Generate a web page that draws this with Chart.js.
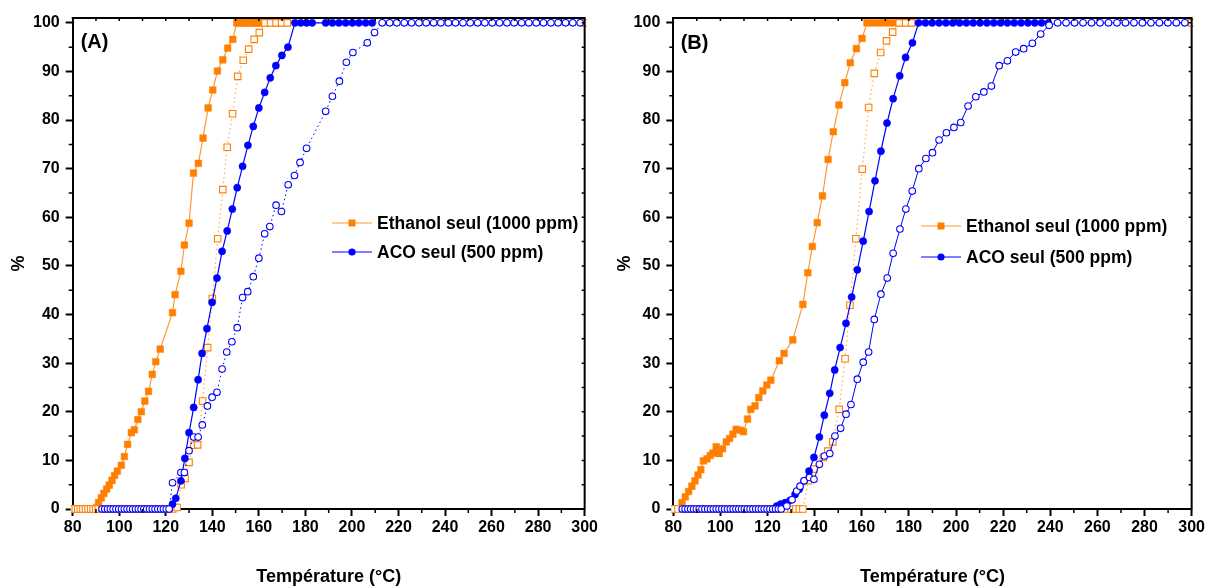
<!DOCTYPE html>
<html>
<head>
<meta charset="utf-8">
<title>Ethanol / ACO</title>
<script src="https://cdn.jsdelivr.net/npm/chart.js@4.4.1/dist/chart.umd.min.js"></script>
<style>
	html, body { margin: 0; padding: 0; background: #fff; }
	#wrap { position: relative; width: 1207px; height: 587px; overflow: hidden; }
	canvas { position: absolute; top: 0; }
	#chartA { left: 0; }
	#chartB { left: 600px; }
</style>
</head>
<body>
<div id="wrap">
	<canvas id="chartA" width="600" height="587"></canvas>
	<canvas id="chartB" width="607" height="587"></canvas>
</div>
<script>
'use strict'

// ---- texts ----
const labelEthanol = 'Ethanol seul (1000 ppm)';
const labelAco = 'ACO seul (500 ppm)';
const xTitle = 'Température (°C)';
const yTitle = '%';
const panelNames = ['(A)', '(B)'];

// ---- panel A ----
const tempEthA = [90.3, 91.1, 92.3, 93.4, 94.6, 95.7, 96.9, 98.0, 99.2, 100.9, 102.2, 103.6, 105.2, 106.5, 108.0, 109.5, 111.0, 112.6, 114.2, 115.7, 117.6, 122.9, 124.0, 126.5, 128.0, 130.0, 131.9, 134.0, 136.0, 138.2, 140.2, 142.2, 144.5, 146.6, 148.8, 150.5, 151.5, 152.5, 153.5, 154.5, 155.5, 156.5, 157.5, 158.5, 159.5, 160.5];
const ethA = [0.3, 1.3, 2.3, 3.2, 4.1, 4.9, 5.9, 6.9, 7.8, 9.0, 10.8, 13.3, 15.7, 16.3, 18.4, 20.0, 22.2, 24.2, 27.7, 30.3, 32.9, 40.4, 44.1, 48.9, 54.3, 58.8, 69.1, 71.1, 76.3, 82.5, 86.2, 90.1, 92.4, 94.8, 96.6, 100, 100, 100, 100, 100, 100, 100, 100, 100, 100, 100];

const tempEthOpenA = [80.0, 81.1, 82.2, 83.3, 84.4, 85.5, 86.6, 87.7, 88.8, 89.9, 91.0, 92.6, 94.2, 95.8, 97.4, 99.0, 100.6, 102.2, 103.8, 105.4, 107.0, 108.6, 110.2, 111.8, 113.4, 115.0, 116.6, 118.2, 119.8, 121.4, 123.0,
	124.9, 126.6, 128.3, 130.0, 132.0, 133.7, 135.8, 138.0, 140.0, 142.3, 144.5, 146.4, 148.7, 150.9, 153.3, 155.6, 158.0, 160.2,
	162.6, 165.0, 167.4, 169.8, 172.2, 300];
const ethOpenA = [0, 0, 0, 0, 0, 0, 0, 0, 0, 0, 0, 0, 0, 0, 0, 0, 0, 0, 0, 0, 0, 0, 0, 0, 0, 0, 0, 0, 0, 0, 0,
	0.3, 5.0, 6.3, 9.6, 13.1, 13.2, 22.2, 33.2, 43.3, 55.6, 65.7, 74.4, 81.3, 89.0, 92.3, 94.6, 96.6, 98.0,
	100, 100, 100, 100, 100, 100];

const tempAcoA = [121.5, 122.9, 124.3, 126.5, 128.2, 130.0, 132.0, 133.9, 135.6, 137.7, 139.9, 142.0, 144.2, 146.4, 148.6, 150.7, 153.0, 155.3, 157.6, 160.0, 162.5, 164.9, 167.3, 169.9, 172.5,
	175.5, 178.0, 180.5, 182.9, 188.7, 191.6, 194.4, 197.3, 200.2, 203.0, 205.9, 208.7];
const acoA = [0, 1.0, 2.2, 5.8, 10.4, 15.7, 20.9, 26.6, 32.0, 37.1, 42.5, 47.5, 53.0, 57.2, 61.7, 66.1, 70.5, 74.8, 78.7, 82.5, 85.7, 88.7, 91.2, 93.3, 95.0,
	100, 100, 100, 100, 100, 100, 100, 100, 100, 100, 100, 100];

const tempAcoOpenA = [92.6, 93.8, 95.0, 96.2, 97.4, 98.6, 99.8, 101.0, 102.2, 103.4, 104.6, 105.8, 107.0, 108.2, 109.4, 110.6, 111.8, 113.0, 114.2, 115.4, 116.6, 117.8, 119.0, 120.2, 121.4,
	122.9, 126.5, 128.0, 130.0, 132.0, 133.9, 135.7, 137.9, 139.9, 142.0, 144.2, 146.2, 148.4, 150.7, 153.0, 155.2, 157.6, 160.0, 162.5, 164.7, 167.4, 169.7, 172.6, 175.3, 177.7, 180.5, 188.7, 191.6, 194.6, 197.6, 200.4, 206.6, 209.7,
	213.0, 216.2, 219.3, 222.5, 225.6, 228.8, 231.9, 235.1, 238.2, 241.4, 244.5, 247.7, 250.8, 254.0, 257.1, 260.3, 263.4, 266.6, 269.7, 272.9, 276.0, 279.2, 282.3, 285.5, 288.6, 291.8, 294.9, 298.1];
const acoOpenA = [0, 0, 0, 0, 0, 0, 0, 0, 0, 0, 0, 0, 0, 0, 0, 0, 0, 0, 0, 0, 0, 0, 0, 0, 0,
	5.4, 7.5, 7.5, 12.0, 14.8, 14.8, 17.3, 21.2, 23.0, 24.0, 28.8, 32.3, 34.4, 37.3, 43.5, 44.7, 47.8, 51.6, 56.6, 58.1, 62.5, 61.2, 66.7, 68.6, 71.3, 74.2, 81.8, 84.9, 88.0, 91.9, 93.9, 95.9, 98.0,
	100, 100, 100, 100, 100, 100, 100, 100, 100, 100, 100, 100, 100, 100, 100, 100, 100, 100, 100, 100, 100, 100, 100, 100, 100, 100, 100, 100];

// ---- panel B ----
const tempEthB = [80.0, 83.7, 85.1, 86.5, 87.9, 89.2, 90.5, 91.7, 92.8, 94.3, 95.7, 96.8, 98.2, 99.5, 100.9, 102.5, 103.9, 105.3, 106.7, 108.4, 109.8, 111.5, 112.9, 114.7, 116.3, 118.0, 119.7, 121.4, 125.0, 127.0, 130.7, 135.0, 137.1, 139.0, 141.1, 143.3, 145.7, 147.9, 150.3, 152.8, 155.1, 157.7, 160.1,
	162.2, 164.6, 167.1, 169.6, 172.0, 174.0];
const ethB = [0, 1.3, 2.5, 3.6, 4.7, 5.8, 7.0, 8.1, 9.9, 10.3, 11.0, 11.5, 12.8, 11.4, 12.4, 13.8, 14.5, 15.4, 16.4, 16.2, 15.9, 18.5, 20.5, 21.2, 22.9, 24.3, 25.5, 26.5, 30.5, 32.0, 34.8, 42.1, 48.6, 54.0, 58.9, 64.4, 71.9, 77.6, 83.1, 87.7, 91.8, 94.7, 96.8,
	100, 100, 100, 100, 100, 100];

const tempEthOpenB = [80.0, 82.0, 84.0, 86.0, 88.0, 90.0, 92.0, 94.0, 96.0, 98.0, 100.0, 102.0, 104.0, 106.0, 108.0, 110.0, 112.0, 114.0, 116.0, 118.0, 120.0, 122.0, 124.0, 126.0, 128.0, 130.0, 132.0, 133.5, 135.0,
	137.3, 139.7, 143.7, 145.6, 147.7, 150.4, 152.9, 155.0, 157.5, 160.2, 162.9, 165.3, 168.0, 170.5, 173.1,
	175.9, 178.6, 181.1, 300];
const ethOpenB = [0, 0, 0, 0, 0, 0, 0, 0, 0, 0, 0, 0, 0, 0, 0, 0, 0, 0, 0, 0, 0, 0, 0, 0, 0, 0, 0, 0, 0,
	5.8, 8.2, 10.6, 11.9, 13.8, 20.5, 30.9, 41.9, 55.6, 69.9, 82.6, 89.6, 93.9, 96.3, 98.1,
	100, 100, 100, 100];

const tempAcoB = [122.0, 123.9, 125.6, 127.5, 129.6, 131.7, 133.5, 135.5, 137.6, 139.7, 142.0, 144.1, 146.4, 148.5, 150.8, 153.3, 155.7, 158.1, 160.6, 163.1, 165.6, 168.1, 170.7, 173.3, 176.1, 178.6, 181.5,
	184.1, 187.0, 189.9, 192.8, 195.7, 198.6, 201.5, 204.4, 207.3, 210.2, 213.1, 216.0, 218.9, 221.8, 224.7, 227.6, 230.5, 233.4, 236.3, 239.2];
const acoB = [0, 0.6, 1.0, 1.3, 1.8, 3.0, 4.1, 5.8, 7.8, 10.6, 14.8, 19.3, 23.8, 28.6, 33.2, 38.2, 43.6, 49.2, 55.1, 61.2, 67.5, 73.6, 79.4, 84.4, 89.1, 92.9, 95.9,
	100, 100, 100, 100, 100, 100, 100, 100, 100, 100, 100, 100, 100, 100, 100, 100, 100, 100, 100, 100];

const tempAcoOpenB = [83.8, 85.0, 86.2, 87.4, 88.6, 89.8, 91.0, 92.2, 93.4, 94.6, 95.8, 97.0, 98.2, 99.4, 100.6, 101.8, 103.0, 104.2, 105.4, 106.6, 107.8, 109.0, 110.2, 111.4, 112.6, 113.8, 115.0, 116.2, 117.4, 118.6, 119.8, 121.0, 122.2, 123.4, 124.6, 125.8,
	128.2, 130.4, 132.4, 133.8, 135.5, 137.8, 139.7, 142.0, 144.1, 146.4, 148.6, 151.0, 153.3, 155.4, 158.1, 160.6, 162.9, 165.3, 168.1, 170.8, 173.3, 176.2, 178.7, 181.4, 184.2, 187.2, 190.0, 192.8, 195.9, 199.1, 202.0, 205.1, 208.4, 211.8, 215.0, 218.3, 221.8, 225.3, 228.7, 232.4, 235.9, 239.5,
	243.1, 246.7, 250.3, 253.9, 257.5, 261.1, 264.7, 268.3, 271.9, 275.5, 279.1, 282.7, 286.3, 289.9, 293.5, 297.1];
const acoOpenB = [0, 0, 0, 0, 0, 0, 0, 0, 0, 0, 0, 0, 0, 0, 0, 0, 0, 0, 0, 0, 0, 0, 0, 0, 0, 0, 0, 0, 0, 0, 0, 0, 0, 0, 0, 0,
	0.6, 1.9, 3.7, 4.7, 5.8, 6.5, 6.1, 9.2, 10.9, 11.4, 15.0, 16.6, 19.5, 21.5, 26.7, 30.2, 32.3, 39.0, 44.2, 47.5, 52.6, 57.6, 61.7, 65.4, 70.0, 72.1, 73.3, 75.9, 77.4, 78.5, 79.5, 82.9, 84.8, 85.8, 87.0, 91.2, 92.2, 94.0, 94.7, 95.8, 97.7, 99.5,
	100, 100, 100, 100, 100, 100, 100, 100, 100, 100, 100, 100, 100, 100, 100, 100];

// ---- styles ----
const orange = '#FF8000';
const orangeLine = '#FF9933';
const orangeDot = '#FFAA55';
const blue = '#0000FF';
const fontFamily = '"Liberation Sans", Arial, Helvetica, sans-serif';

Chart.defaults.font.family = fontFamily;
Chart.defaults.font.weight = 'bold';
Chart.defaults.color = '#000';

function pts(xs, ys) {
	if (xs.length !== ys.length) console.error('length mismatch', xs.length, ys.length);
	return xs.map((t, i) => ({ x: t, y: ys[i] }));
}

// top/right frame, minor ticks, panel letter
const framePlugin = {
	id: 'frame',
	afterDraw(chart, args, opts) {
		const { ctx, chartArea: { left, right, top, bottom }, scales: { x, y } } = chart;
		ctx.save();
		ctx.strokeStyle = '#000';
		ctx.lineWidth = 2;
		ctx.beginPath();
		ctx.moveTo(left - 1, top);
		ctx.lineTo(right, top);
		ctx.lineTo(right, bottom + 1);
		ctx.stroke();

		ctx.lineWidth = 1.5;
		ctx.beginPath();
		// minor ticks outside, mirror ticks inside
		for (let v = 90; v < 300; v += 20) {
			const px = x.getPixelForValue(v);
			ctx.moveTo(px, bottom); ctx.lineTo(px, bottom + 4);
		}
		for (let v = 90; v < 300; v += 10) {
			const px = x.getPixelForValue(v);
			ctx.moveTo(px, top); ctx.lineTo(px, top + 3);
		}
		for (let v = 5; v < 100; v += 10) {
			const py = y.getPixelForValue(v);
			ctx.moveTo(left, py); ctx.lineTo(left - 4, py);
		}
		for (let v = 5; v <= 100; v += 5) {
			const py = y.getPixelForValue(v);
			ctx.moveTo(right, py); ctx.lineTo(right - 3, py);
		}
		ctx.stroke();

		ctx.fillStyle = '#000';
		ctx.font = 'bold 20px ' + fontFamily;
		ctx.textAlign = 'left';
		ctx.textBaseline = 'middle';
		ctx.fillText(opts.name, opts.nameX, opts.nameY);
		ctx.restore();
	},
};

// legend with line + marker like the original software
const lineLegend = {
	id: 'lineLegend',
	afterDraw(chart, args, opts) {
		const { ctx } = chart;
		ctx.save();
		opts.items.forEach((idx, i) => {
			const ds = chart.data.datasets[idx];
			const yy = opts.y + i * opts.gap;
			ctx.strokeStyle = ds.borderColor;
			ctx.lineWidth = 1.2;
			ctx.setLineDash([]);
			ctx.beginPath();
			ctx.moveTo(opts.x, yy);
			ctx.lineTo(opts.x + 40, yy);
			ctx.stroke();
			ctx.fillStyle = ds.pointBackgroundColor;
			if (ds.pointStyle === 'rect') {
				ctx.fillRect(opts.x + 16.5, yy - 3.5, 7, 7);
			} else {
				ctx.beginPath();
				ctx.arc(opts.x + 20, yy, 3.6, 0, Math.PI * 2);
				ctx.fill();
			}
			ctx.fillStyle = '#000';
			ctx.font = 'bold 17.5px ' + fontFamily;
			ctx.textAlign = 'left';
			ctx.textBaseline = 'middle';
			ctx.fillText(ds.label, opts.x + 45, yy + 1);
		});
		ctx.restore();
	},
};

function makePanel(id, d) {
	const datasets = [
		{
			label: 'ACO open',
			data: pts(d.tAcoOpen, d.acoOpen),
			showLine: true,
			borderColor: blue,
			borderWidth: 1,
			borderDash: d.acoOpenDotted ? [1.5, 3] : [],
			pointStyle: 'circle',
			pointRadius: 3.3,
			pointBackgroundColor: '#fff',
			pointBorderColor: blue,
			pointBorderWidth: 1.1,
		},
		{
			label: labelAco,
			data: pts(d.tAco, d.aco),
			showLine: true,
			borderColor: blue,
			borderWidth: 1.2,
			pointStyle: 'circle',
			pointRadius: 3.6,
			pointBackgroundColor: blue,
			pointBorderColor: blue,
			pointBorderWidth: 0.5,
		},
		{
			label: 'Ethanol open',
			data: pts(d.tEthOpen, d.ethOpen),
			showLine: true,
			borderColor: orangeDot,
			borderWidth: 1.2,
			borderDash: [1.5, 3],
			pointStyle: 'rect',
			pointRadius: 4.6,
			pointBackgroundColor: '#fff',
			pointBorderColor: orange,
			pointBorderWidth: 1.1,
		},
		{
			label: labelEthanol,
			data: pts(d.tEth, d.eth),
			showLine: true,
			borderColor: orangeLine,
			borderWidth: 1.2,
			pointStyle: 'rect',
			pointRadius: 4.7,
			pointBackgroundColor: orange,
			pointBorderColor: orange,
			pointBorderWidth: 0.5,
		},
	];

	return new Chart(document.getElementById(id), {
		type: 'scatter',
		data: { datasets: datasets },
		plugins: [framePlugin, lineLegend],
		options: {
			responsive: false,
			animation: false,
			events: [],
			clip: { left: 2, right: 2, top: 8, bottom: 8 },
			layout: {
				padding: { left: 0, right: d.padRight, top: 18, bottom: 0 },
			},
			elements: { line: { tension: 0 } },
			plugins: {
				legend: { display: false },
				tooltip: { enabled: false },
				frame: { name: d.name, nameX: 80.7, nameY: d.nameY },
				lineLegend: { items: [3, 1], x: d.legX, y: d.legY, gap: d.legGap },
			},
			scales: {
				x: {
					type: 'linear',
					min: 80,
					max: 300,
					afterFit: (s) => { s.height = 78; },
					ticks: { stepSize: 20, padding: 2, maxRotation: 0, font: { size: 16, weight: 'bold' }, includeBounds: false },
					grid: { drawOnChartArea: false, drawTicks: true, tickLength: 7, tickWidth: 2, tickColor: '#000' },
					border: { display: true, width: 2, color: '#000' },
					title: { display: true, text: xTitle, font: { size: 18, weight: 'bold' }, padding: { top: 0, bottom: -1 } },
				},
				y: {
					type: 'linear',
					min: 0,
					max: 101,
					afterFit: (s) => { s.width = d.yWidth; },
					ticks: { stepSize: 10, padding: 6, font: { size: 16, weight: 'bold' }, includeBounds: false },
					grid: { drawOnChartArea: false, drawTicks: true, tickLength: 7, tickWidth: 2, tickColor: '#000' },
					border: { display: true, width: 2, color: '#000' },
					title: { display: true, text: yTitle, font: { size: 18, weight: 'bold' }, padding: { top: d.yTitlePad, bottom: 0 } },
				},
			},
		},
	});
}

makePanel('chartA', {
	tEth: tempEthA, eth: ethA,
	tEthOpen: tempEthOpenA, ethOpen: ethOpenA,
	tAco: tempAcoA, aco: acoA,
	tAcoOpen: tempAcoOpenA, acoOpen: acoOpenA,
	acoOpenDotted: true,
	name: panelNames[0], nameY: 42,
	yWidth: 72.7, padRight: 13, yTitlePad: 8,
	legX: 332, legY: 223, legGap: 29,
});

makePanel('chartB', {
	tEth: tempEthB, eth: ethB,
	tEthOpen: tempEthOpenB, ethOpen: ethOpenB,
	tAco: tempAcoB, aco: acoB,
	tAcoOpen: tempAcoOpenB, acoOpen: acoOpenB,
	acoOpenDotted: false,
	name: panelNames[1], nameY: 43,
	yWidth: 73.3, padRight: 14, yTitlePad: 14,
	legX: 321, legY: 226, legGap: 31,
});
</script>
</body>
</html>
